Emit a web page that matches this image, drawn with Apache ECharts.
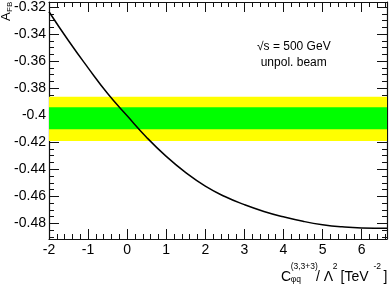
<!DOCTYPE html>
<html><head><meta charset="utf-8">
<script src="https://cdn.jsdelivr.net/npm/echarts@6/dist/echarts.min.js"></script>
<style>html,body{margin:0;padding:0;background:#fff}#c{width:391px;height:284px}</style>
</head><body><div id="c"></div>
<script>
// curve data
var cValues = [-2, -1.5, -1, -0.5, 0, 0.5, 1, 1.5, 2, 2.5, 3, 3.5, 4, 4.5, 5, 5.5, 6, 6.65];
var afbValues = [-0.3235, -0.3450, -0.3650, -0.3840, -0.4005, -0.4165, -0.4305, -0.4425, -0.4525, -0.4602, -0.4662, -0.4712, -0.4752, -0.4785, -0.4810, -0.4826, -0.4834, -0.4836];
// uncertainty bands [low, high]
var band2 = [-0.4191, -0.3863];
var band1 = [-0.4105, -0.3942];
// ticks
var xMajor = [-2, -1, 0, 1, 2, 3, 4, 5, 6];
var yMajor = [-0.48, -0.46, -0.44, -0.42, -0.40, -0.38, -0.36, -0.34, -0.32];
var xRange = [-2, 6.65];
var yRange = [-0.4916, -0.3163];

function minorOf(major, step, lo, hi) {
  var out = [];
  var start = Math.ceil(lo / step - 1e-9), end = Math.floor(hi / step + 1e-9);
  for (var k = start; k <= end; k++) {
    var v = +(k * step).toFixed(6);
    var isMajor = major.some(function (m) { return Math.abs(m - v) < 1e-7; });
    if (!isMajor) out.push(v);
  }
  return out;
}
var xMinor = minorOf(xMajor, 0.2, xRange[0], xRange[1]);
var yMinor = minorOf(yMajor, 0.005, yRange[0], yRange[1]);

var FONT = 'Liberation Sans, Arial, Helvetica, sans-serif';
var lineSt = { color: '#111', width: 1.2 };

function xAx(pos, major, showLine, labels) {
  return {
    type: 'value', position: pos, min: xRange[0], max: xRange[1],
    axisLine: { show: showLine, onZero: false, lineStyle: lineSt },
    axisTick: { show: true, inside: true, length: major ? 10 : 5, customValues: major ? xMajor : xMinor, lineStyle: { color: '#111', width: 1 } },
    axisLabel: labels ? { show: true, customValues: xMajor, fontSize: 14, color: '#000', fontFamily: FONT, margin: 4 } : { show: false },
    splitLine: { show: false }
  };
}
function yAx(pos, major, showLine, labels) {
  return {
    type: 'value', position: pos, min: yRange[0], max: yRange[1],
    axisLine: { show: showLine, onZero: false, lineStyle: lineSt },
    axisTick: { show: true, inside: true, length: major ? 10 : 5, customValues: major ? yMajor : yMinor, lineStyle: { color: '#111', width: 1 } },
    axisLabel: labels ? { show: true, customValues: yMajor, fontSize: 14, color: '#000', fontFamily: FONT, margin: 3 } : { show: false },
    splitLine: { show: false }
  };
}

var curve = cValues.map(function (x, i) { return [x, afbValues[i]]; });

var chart = echarts.init(document.getElementById('c'), null, { renderer: 'canvas' });
chart.setOption({
  animation: false,
  grid: { left: 49, right: 4, top: 2, bottom: 45 },
  xAxis: [xAx('bottom', true, true, true), xAx('bottom', false, false, false), xAx('top', true, true, false), xAx('top', false, false, false)],
  yAxis: [yAx('left', true, true, true), yAx('left', false, false, false), yAx('right', true, true, false), yAx('right', false, false, false)],
  series: [
    {
      type: 'line', z: 1, data: curve, showSymbol: false, lineStyle: { opacity: 0 }, silent: true,
      markArea: {
        silent: true,
        data: [
          [{ yAxis: band2[0], itemStyle: { color: '#ffff00', opacity: 1 } }, { yAxis: band2[1] }],
          [{ yAxis: band1[0], itemStyle: { color: '#00ff00', opacity: 1 } }, { yAxis: band1[1] }]
        ]
      }
    },
    {
      type: 'line', z: 3, data: curve, showSymbol: false, smooth: 0.5,
      lineStyle: { color: '#000', width: 1.5 }
    }
  ],
  graphic: [
    { type: 'group', x: 0, y: 21, rotation: Math.PI / 2, children: [
      { type: 'text', x: 0, y: 0, style: { text: 'A', fontSize: 13, fontFamily: FONT, fill: '#000', align: 'left', verticalAlign: 'top' } },
      { type: 'text', x: 9, y: 6, style: { text: 'FB', fontSize: 8, fontFamily: FONT, fill: '#000', align: 'left', verticalAlign: 'top' } }
    ] },
    { type: 'text', x: 281, y: 277, style: { text: 'C', fontSize: 14, fontFamily: FONT, fill: '#000', verticalAlign: 'middle' } },
    { type: 'text', x: 290.7, y: 267, style: { text: '(3,3+3)', fontSize: 8.5, fontFamily: FONT, fill: '#000', verticalAlign: 'middle' } },
    { type: 'text', x: 290.7, y: 279.5, style: { text: 'φq', fontSize: 8.5, fontFamily: FONT, fill: '#000', verticalAlign: 'middle' } },
    { type: 'text', x: 316, y: 277, style: { text: '/ Λ', fontSize: 14, fontFamily: FONT, fill: '#000', verticalAlign: 'middle' } },
    { type: 'text', x: 332.7, y: 266.5, style: { text: '2', fontSize: 8.5, fontFamily: FONT, fill: '#000', verticalAlign: 'middle' } },
    { type: 'text', x: 340.5, y: 277, style: { text: '[TeV', fontSize: 14, fontFamily: FONT, fill: '#000', verticalAlign: 'middle' } },
    { type: 'text', x: 373.5, y: 266.5, style: { text: '-2', fontSize: 8.5, fontFamily: FONT, fill: '#000', verticalAlign: 'middle' } },
    { type: 'text', x: 383.5, y: 277, style: { text: ']', fontSize: 14, fontFamily: FONT, fill: '#000', verticalAlign: 'middle' } },
    { type: 'text', x: 257, y: 47, style: { text: '√s = 500 GeV', fontSize: 12, fontFamily: FONT, fill: '#000', verticalAlign: 'middle' } },
    { type: 'text', x: 260.7, y: 63, style: { text: 'unpol. beam', fontSize: 12, fontFamily: FONT, fill: '#000', verticalAlign: 'middle' } }
  ]
});
</script></body></html>
